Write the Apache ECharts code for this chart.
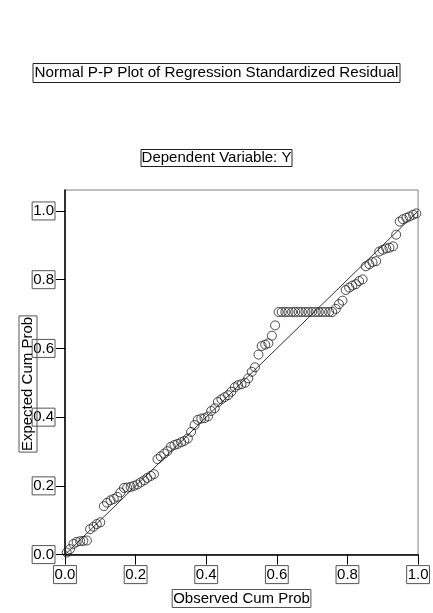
<!DOCTYPE html>
<html>
<head>
<meta charset="utf-8">
<script src="https://cdn.jsdelivr.net/npm/echarts@6/dist/echarts.min.js"></script>
<style>
  html, body { margin: 0; padding: 0; background: #fff; }
  #chart { width: 433px; height: 613px; }
</style>
</head>
<body>
<div id="chart"></div>
<script>
// Observed cumulative probability (sorted residual ranks)
const obsCum = [
  0.005, 0.014, 0.024, 0.033, 0.043, 0.052, 0.062, 0.071, 0.081, 0.090,
  0.100, 0.110, 0.119, 0.129, 0.138, 0.148, 0.157, 0.167, 0.176, 0.186,
  0.195, 0.205, 0.214, 0.224, 0.233, 0.243, 0.252, 0.262, 0.271, 0.281,
  0.290, 0.300, 0.310, 0.319, 0.329, 0.338, 0.348, 0.357, 0.367, 0.376,
  0.386, 0.395, 0.405, 0.414, 0.424, 0.433, 0.443, 0.452, 0.462, 0.471,
  0.481, 0.490, 0.500, 0.510, 0.519, 0.529, 0.538, 0.548, 0.557, 0.567,
  0.576, 0.586, 0.595, 0.605, 0.614, 0.624, 0.633, 0.643, 0.652, 0.662,
  0.671, 0.681, 0.690, 0.700, 0.710, 0.719, 0.729, 0.738, 0.748, 0.757,
  0.767, 0.776, 0.786, 0.795, 0.805, 0.814, 0.824, 0.833, 0.843, 0.852,
  0.862, 0.871, 0.881, 0.890, 0.900, 0.910, 0.919, 0.929, 0.938, 0.948,
  0.957, 0.967, 0.976, 0.986, 0.995
];

// Expected cumulative probability under the normal distribution
const expCum = [
  0.006, 0.016, 0.031, 0.037, 0.039, 0.040, 0.041,
  0.074, 0.081, 0.089, 0.094,
  0.141, 0.151, 0.158, 0.162, 0.168, 0.181,
  0.194, 0.195, 0.197, 0.200, 0.204, 0.210, 0.216, 0.223, 0.229, 0.234,
  0.278, 0.286, 0.294, 0.301, 0.314, 0.319, 0.322, 0.327, 0.331, 0.338,
  0.357, 0.377, 0.392, 0.396, 0.397, 0.402,
  0.418, 0.426, 0.444, 0.452, 0.458, 0.464,
  0.474, 0.487, 0.493, 0.496, 0.500, 0.513,
  0.532, 0.545, 0.582, 0.607, 0.611, 0.615, 0.637, 0.667,
  0.706, 0.706, 0.706, 0.706, 0.706, 0.706, 0.706, 0.706, 0.706,
  0.706, 0.706, 0.706, 0.706, 0.706, 0.706, 0.706, 0.706,
  0.715, 0.729, 0.739,
  0.770, 0.777, 0.783, 0.787, 0.796, 0.801,
  0.839, 0.845, 0.851, 0.854,
  0.882, 0.887, 0.891, 0.893, 0.897,
  0.931,
  0.969, 0.976, 0.980, 0.984, 0.989, 0.993
];

// Tick values shown on both axes
const tickValues = [0.0, 0.2, 0.4, 0.6, 0.8, 1.0];

// Diagonal reference line endpoints
const refLine = [[0, 0], [1, 1]];

const FONT = '"Liberation Sans", Arial, sans-serif';
const points = obsCum.map((x, i) => [x, expCum[i]]);

// Boxed text style used for tick labels and axis titles
const boxLabel = {
  color: '#000',
  fontSize: 15,
  fontFamily: FONT,
  lineHeight: 16,
  padding: [1, 1, 1, 1],
  borderColor: '#555',
  borderWidth: 1
};

const chart = echarts.init(document.getElementById('chart'), null, { renderer: 'canvas' });

chart.setOption({
  animation: false,
  backgroundColor: '#fff',
  title: [
    {
      text: 'Normal P-P Plot of Regression Standardized Residual',
      left: 'center',
      top: 63,
      padding: [1, 2, 1, 2],
      borderColor: '#222',
      borderWidth: 1,
      textStyle: { fontSize: 15.2, fontWeight: 'normal', fontFamily: FONT, color: '#000', lineHeight: 18 }
    },
    {
      text: 'Dependent Variable: Y',
      left: 'center',
      top: 149,
      padding: [0, 1, 0, 1],
      borderColor: '#222',
      borderWidth: 1,
      textStyle: { fontSize: 15, fontWeight: 'normal', fontFamily: FONT, color: '#000', lineHeight: 18 }
    }
  ],
  grid: {
    left: 65,
    top: 190,
    width: 355,
    height: 367.7,
    show: true,
    borderColor: '#808080',
    borderWidth: 1,
    backgroundColor: 'transparent'
  },
  xAxis: {
    type: 'value',
    min: 0,
    max: 1,
    interval: 0.2,
    name: 'Observed Cum Prob',
    nameLocation: 'middle',
    nameGap: 29,
    nameTextStyle: Object.assign({}, boxLabel, { verticalAlign: 'top' }),
    axisLine: { show: true, lineStyle: { color: '#000', width: 1.5 } },
    axisTick: { show: true, length: 10, lineStyle: { color: '#000' } },
    axisLabel: Object.assign({}, boxLabel, {
      margin: 11,
      formatter: v => v.toFixed(1)
    }),
    splitLine: { show: false }
  },
  yAxis: {
    type: 'value',
    min: 0,
    max: 1.061,
    axisLine: { show: true, lineStyle: { color: '#000', width: 1.5 } },
    axisTick: { show: true, length: 9, lineStyle: { color: '#000' }, customValues: tickValues },
    axisLabel: Object.assign({}, boxLabel, {
      margin: 10,
      customValues: tickValues,
      formatter: v => v.toFixed(1)
    }),
    splitLine: { show: false }
  },
  graphic: [
    {
      type: 'text',
      x: 28,
      y: 384,
      rotation: Math.PI / 2,
      z: 100,
      style: {
        text: 'Expected Cum Prob',
        font: '15px ' + FONT,
        fill: '#000',
        align: 'center',
        verticalAlign: 'middle',
        lineHeight: 16,
        padding: [1, 1, 1, 1],
        borderColor: '#555',
        borderWidth: 1
      }
    }
  ],
  series: [
    {
      type: 'line',
      data: refLine,
      symbol: 'none',
      silent: true,
      lineStyle: { color: '#333', width: 1 },
      z: 2
    },
    {
      type: 'scatter',
      data: points,
      symbol: 'circle',
      symbolSize: 9,
      itemStyle: { color: 'rgba(0,0,0,0)', borderColor: '#222', borderWidth: 1 },
      z: 3
    }
  ]
});
</script>
</body>
</html>
